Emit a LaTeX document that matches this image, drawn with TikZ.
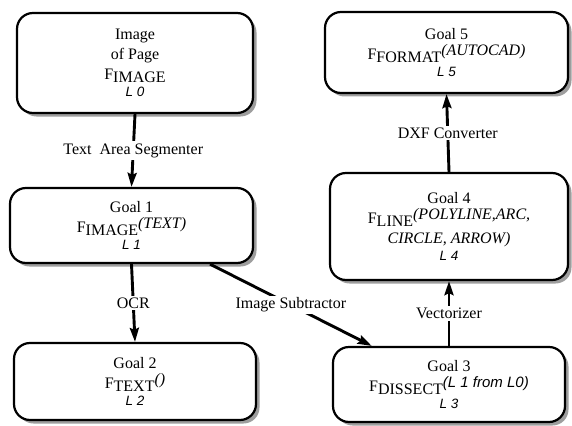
\documentclass[tikz,border=0pt]{standalone}
\usepackage{fontspec}
\setmainfont{Liberation Serif}
\newfontfamily\lsans{Liberation Sans}
\usetikzlibrary{shadows,arrows.meta,calc}

% F with a lowered name and a raised italic argument
\newcommand{\fsub}[2]{F\raisebox{-0.45ex}{#1}\raisebox{0.6ex}{\textit{#2}}}
\newcommand{\lvl}[1]{{\lsans\itshape\fontsize{13.5}{15}\selectfont #1}}
\newcommand{\lvlsup}[1]{{\lsans\itshape\fontsize{15}{17}\selectfont #1}}

\begin{document}
\begin{tikzpicture}[x=1pt,y=-1pt,
  goalbox/.style={draw=black,line width=2.2pt,rounded corners=16pt,fill=white,
    align=center,inner sep=0pt,
    drop shadow={shadow xshift=3.5pt,shadow yshift=-3.5pt,fill=black!38,opacity=1}},
  flow/.style={line width=2.9pt,-{Stealth[length=14pt,width=9pt,inset=2pt]}},
  edgelabel/.style={fill=white,inner sep=2pt,font=\fontsize{16}{20}\selectfont}
]
\useasboundingbox (0,0) rectangle (572,425);
\fontsize{16}{20}\selectfont

\node[goalbox,minimum width=236pt,minimum height=100pt] (l0) at (135,63)
  {Image\\of Page\\\fsub{IMAGE}{}\\[-3pt]\lvl{L 0}};
\node[goalbox,minimum width=243pt,minimum height=75pt] (g1) at (131.5,225.5)
  {Goal 1\\\fsub{IMAGE}{(TEXT)}\\[-3pt]\lvl{L 1}};
\node[goalbox,minimum width=242pt,minimum height=77pt] (g2) at (135,381.5)
  {Goal 2\\\fsub{TEXT}{()}\\[-3pt]\lvl{L 2}};
\node[goalbox,minimum width=243pt,minimum height=81pt] (g5) at (446.5,52.5)
  {Goal 5\\\fsub{FORMAT}{(AUTOCAD)}\\[-3pt]\lvl{L 5}};
\node[goalbox,minimum width=238pt,minimum height=107pt] (g4) at (449,226.5)
  {Goal 4\\\fsub{LINE}{(POLYLINE,ARC,}\\\textit{CIRCLE, ARROW)}\\[-3pt]\lvl{L 4}};
\node[goalbox,minimum width=232pt,minimum height=75pt] (g3) at (449,384.5)
  {Goal 3\\\fsub{DISSECT}{\lvlsup{(L 1 from L0)}}\\[-3pt]\lvl{L 3}};

\draw[flow] (l0.south) -- node[edgelabel] {Text\ \ Area Segmenter} (g1.north);
\draw[flow] (g1.south) -- node[edgelabel] {OCR} (g2.north);
\draw[flow] (g3.north) -- node[edgelabel] {Vectorizer} (g4.south);
\draw[flow] (g4.north) -- node[edgelabel] {DXF Converter} (g5.south);
\coordinate (s0) at ($(g1.south west)!0.82!(g1.south east)$);
\coordinate (s1) at ($(g3.north west)!0.17!(g3.north east)$);
\draw[flow] (s0) -- node[edgelabel] {Image Subtractor} (s1);
\end{tikzpicture}
\end{document}
